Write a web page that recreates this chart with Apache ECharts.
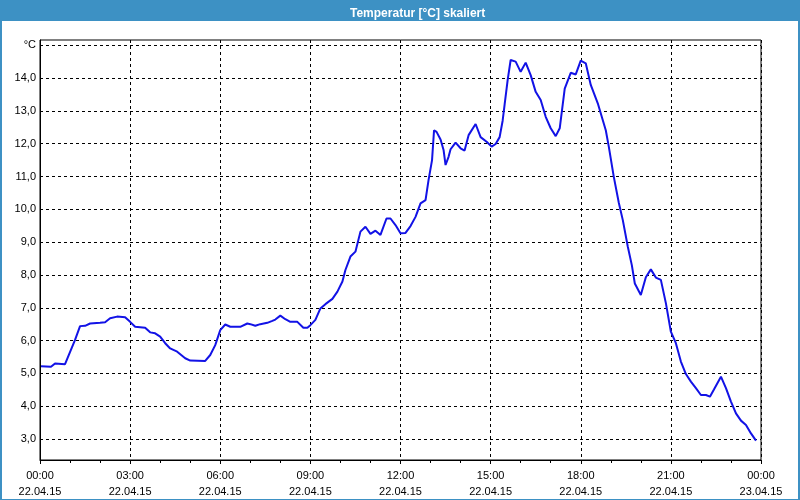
<!DOCTYPE html>
<html>
<head>
<meta charset="utf-8">
<script src="https://cdn.jsdelivr.net/npm/echarts@6/dist/echarts.min.js"></script>
<style>html,body{margin:0;padding:0;background:#fff;}#c{width:800px;height:500px;}</style>
</head>
<body>
<div id="c"></div>
<script>
// minutes since 22.04.15 00:00
const minutes = [2,22,30,50,70,80,90,100,120,130,140,154,170,180,190,210,220,230,240,250,260,274,290,300,330,340,350,360,370,380,400,414,420,430,440,454,464,470,480,490,500,514,526,534,540,550,560,570,584,594,604,610,620,630,640,650,660,670,680,692,700,710,720,730,740,750,760,770,776,783,787,792,800,806,810,816,820,830,840,848,856,870,880,892,902,910,918,924,928,934,940,950,960,970,980,990,1000,1010,1020,1030,1038,1048,1060,1070,1080,1090,1100,1114,1130,1136,1146,1156,1164,1174,1182,1188,1200,1210,1220,1230,1240,1250,1260,1270,1280,1290,1300,1310,1320,1330,1338,1346,1360,1370,1380,1390,1400,1410,1420,1430];
const temps = [5.22,5.2,5.3,5.28,6.02,6.44,6.45,6.52,6.54,6.56,6.68,6.73,6.71,6.57,6.42,6.39,6.25,6.22,6.12,5.92,5.76,5.66,5.46,5.39,5.38,5.56,5.86,6.32,6.49,6.42,6.42,6.52,6.5,6.45,6.5,6.54,6.6,6.64,6.76,6.65,6.57,6.57,6.39,6.39,6.47,6.63,6.98,7.11,7.27,7.49,7.8,8.15,8.56,8.71,9.32,9.47,9.25,9.35,9.22,9.72,9.72,9.52,9.27,9.28,9.49,9.77,10.18,10.28,10.89,11.5,12.41,12.36,12.13,11.81,11.35,11.6,11.83,12.03,11.86,11.79,12.26,12.6,12.2,12.06,11.91,11.99,12.2,12.7,13.2,13.94,14.55,14.5,14.19,14.47,14.09,13.58,13.33,12.82,12.47,12.23,12.47,13.68,14.16,14.11,14.53,14.45,13.79,13.23,12.41,11.91,10.99,10.2,9.67,8.86,8.3,7.74,7.39,7.93,8.17,7.92,7.85,7.14,6.27,5.92,5.36,4.98,4.75,4.55,4.34,4.34,4.29,4.51,4.9,4.55,4.14,3.78,3.56,3.43,3.17,2.95];
const yTicks = [3,4,5,6,7,8,9,10,11,12,13,14,15];
const xTickDates = ['22.04.15','22.04.15','22.04.15','22.04.15','22.04.15','22.04.15','22.04.15','22.04.15','23.04.15'];
const titleText = 'Temperatur [°C] skaliert';
const unitLabel = '°C';

const data = minutes.map((m, i) => [m, temps[i]]);
const FONT = '"Liberation Sans", Arial, sans-serif';
const BLUE = '#3d91c4';

const chart = echarts.init(document.getElementById('c'), null, {renderer: 'canvas'});
chart.setOption({
  animation: false,
  backgroundColor: '#ffffff',
  title: {
    text: titleText,
    left: 345, top: 3,
    textStyle: {color: '#ffffff', fontSize: 12, fontWeight: 'bold', fontFamily: FONT}
  },
  graphic: [
    {type: 'rect', z: -1, shape: {x: 0, y: 0, width: 800, height: 21}, style: {fill: BLUE}},
    {type: 'rect', z: -1, shape: {x: 0, y: 0, width: 2, height: 500}, style: {fill: BLUE}},
    {type: 'rect', z: -1, shape: {x: 798, y: 0, width: 2, height: 500}, style: {fill: BLUE}},
    {type: 'rect', z: -1, shape: {x: 0, y: 499, width: 800, height: 1}, style: {fill: BLUE}}
  ],
  grid: {left: 40, right: 39, top: 40, bottom: 40, show: true, borderColor: '#000', borderWidth: 1, backgroundColor: '#fff'},
  xAxis: {
    type: 'value', min: 0, max: 1440, interval: 180,
    axisLine: {lineStyle: {color: '#000', width: 1}},
    axisTick: {show: true, length: 4, lineStyle: {color: '#000'}},
    minorTick: {show: true, splitNumber: 3, length: 3, lineStyle: {color: '#000'}},
    splitLine: {show: true, lineStyle: {color: '#000', type: [3, 3], width: 1}},
    axisLabel: {
      color: '#000', fontSize: 11, fontFamily: FONT, lineHeight: 16, margin: 8,
      formatter: function (v) {
        const h = Math.round(v / 60) % 24;
        const idx = Math.round(v / 180);
        return (h < 10 ? '0' : '') + h + ':00\n' + xTickDates[idx];
      }
    }
  },
  yAxis: {
    type: 'value', min: 2.36, max: 15.16,
    axisLine: {show: true, lineStyle: {color: '#000', width: 1}},
    axisTick: {show: false, customValues: yTicks},
    splitLine: {show: true, lineStyle: {color: '#000', type: [3, 3], width: 1}},
    axisLabel: {
      customValues: yTicks,
      color: '#000', fontSize: 11, fontFamily: FONT, margin: 4,
      formatter: function (v) {
        if (Math.abs(v - 15) < 1e-6) return unitLabel;
        return v.toFixed(1).replace('.', ',');
      }
    }
  },
  series: [{
    type: 'line',
    data: data,
    showSymbol: false,
    smooth: false,
    lineStyle: {color: '#1212e6', width: 2},
    itemStyle: {color: '#1212e6'}
  }]
});
</script>
</body>
</html>
